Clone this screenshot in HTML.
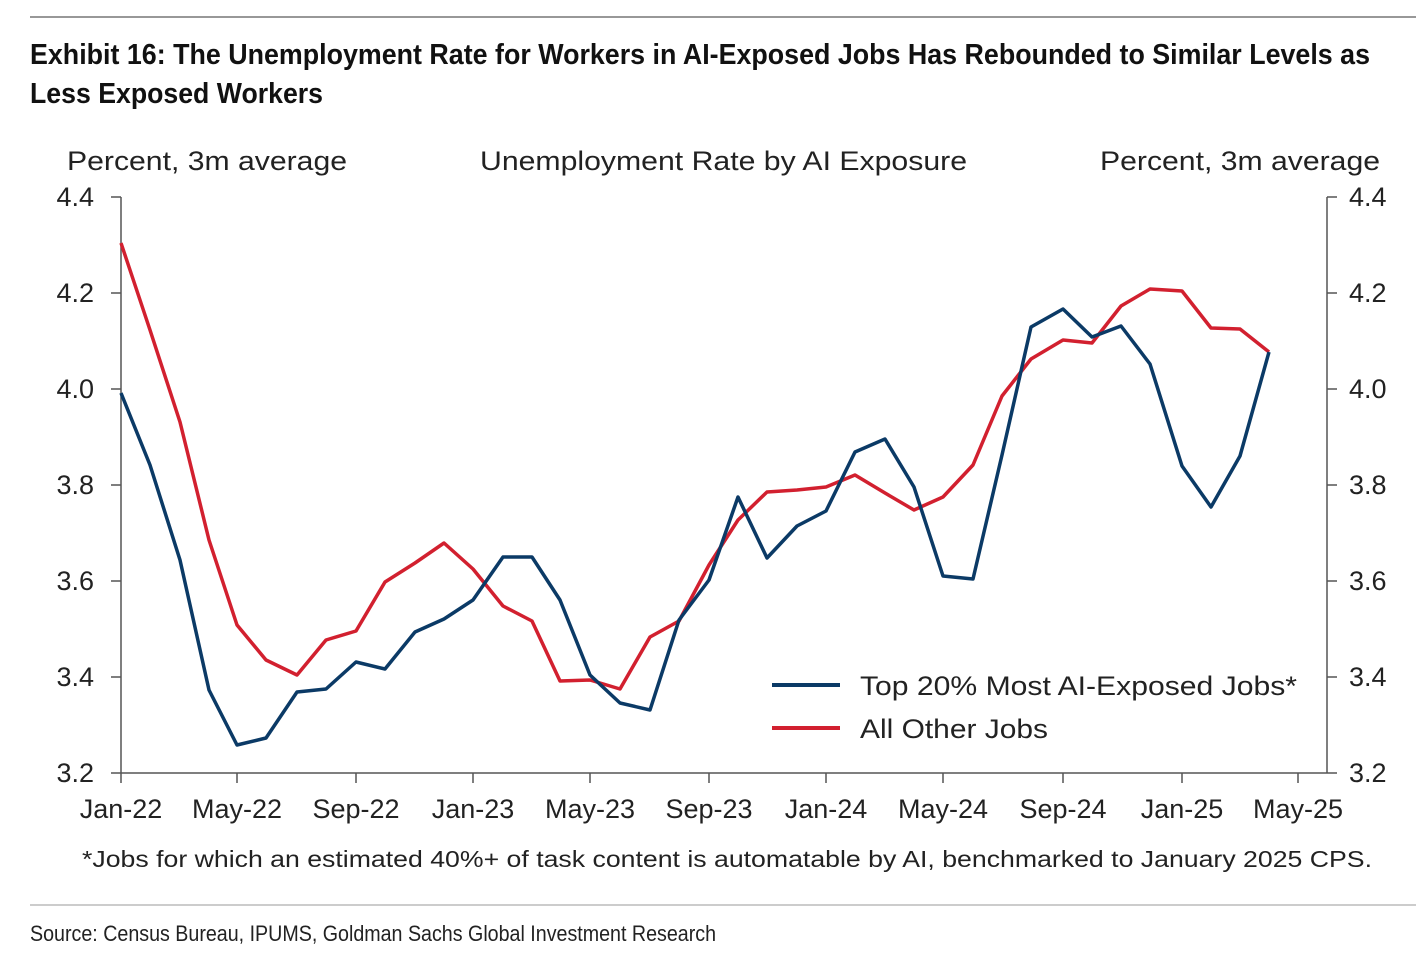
<!DOCTYPE html>
<html><head><meta charset="utf-8"><style>
html,body{margin:0;padding:0;background:#fff;width:1424px;height:960px;overflow:hidden}
</style></head><body>
<svg width="1424" height="960" xmlns="http://www.w3.org/2000/svg">
<line x1="30" y1="17" x2="1416" y2="17" stroke="#777" stroke-width="1.5"/>
<g font-family="'Liberation Sans Narrow','Liberation Sans',sans-serif" font-weight="bold" font-size="29" fill="#111">
<text x="30" y="64" textLength="1340" lengthAdjust="spacingAndGlyphs">Exhibit 16: The Unemployment Rate for Workers in AI-Exposed Jobs Has Rebounded to Similar Levels as</text>
<text x="30" y="103" textLength="293" lengthAdjust="spacingAndGlyphs">Less Exposed Workers</text>
</g>
<g font-family="'Liberation Sans',sans-serif" font-size="27" fill="#222">
<text x="67" y="170" textLength="280" lengthAdjust="spacingAndGlyphs">Percent, 3m average</text>
<text x="480" y="170" textLength="487" lengthAdjust="spacingAndGlyphs">Unemployment Rate by AI Exposure</text>
<text x="1100" y="170" textLength="280" lengthAdjust="spacingAndGlyphs">Percent, 3m average</text>
</g>
<g stroke="#555" stroke-width="1.5" fill="none">
<line x1="121" y1="197" x2="121" y2="773"/>
<line x1="1327" y1="197" x2="1327" y2="773"/>
<line x1="121" y1="773" x2="1327" y2="773"/>
<path d="M111 197H121M111 293H121M111 389H121M111 485H121M111 581H121M111 677H121M111 773H121"/>
<path d="M1327 197H1337M1327 293H1337M1327 389H1337M1327 485H1337M1327 581H1337M1327 677H1337M1327 773H1337"/>
<path d="M121 773V783M237 773V783M356 773V783M473 773V783M590 773V783M709 773V783M826 773V783M943 773V783M1063 773V783M1182 773V783M1298 773V783"/>
</g>
<g font-family="'Liberation Sans',sans-serif" font-size="27" fill="#222">
<g text-anchor="end">
<text x="94" y="206">4.4</text><text x="94" y="302">4.2</text><text x="94" y="398">4.0</text><text x="94" y="494">3.8</text><text x="94" y="590">3.6</text><text x="94" y="686">3.4</text><text x="94" y="782">3.2</text>
</g>
<g>
<text x="1349" y="206">4.4</text><text x="1349" y="302">4.2</text><text x="1349" y="398">4.0</text><text x="1349" y="494">3.8</text><text x="1349" y="590">3.6</text><text x="1349" y="686">3.4</text><text x="1349" y="782">3.2</text>
</g>
<g text-anchor="middle">
<text x="121" y="818">Jan-22</text><text x="237" y="818">May-22</text><text x="356" y="818">Sep-22</text><text x="473" y="818">Jan-23</text><text x="590" y="818">May-23</text><text x="709" y="818">Sep-23</text><text x="826" y="818">Jan-24</text><text x="943" y="818">May-24</text><text x="1063" y="818">Sep-24</text><text x="1182" y="818">Jan-25</text><text x="1298" y="818">May-25</text>
</g>
<text x="82" y="867" font-size="23" textLength="1290" lengthAdjust="spacingAndGlyphs">*Jobs for which an estimated 40%+ of task content is automatable by AI, benchmarked to January 2025 CPS.</text>
<text x="860" y="695" textLength="437" lengthAdjust="spacingAndGlyphs">Top 20% Most AI-Exposed Jobs*</text>
<text x="860" y="738" textLength="188" lengthAdjust="spacingAndGlyphs">All Other Jobs</text>
</g>
<line x1="772" y1="685" x2="840" y2="685" stroke="#0b3a66" stroke-width="4"/>
<line x1="772" y1="728" x2="840" y2="728" stroke="#d2202f" stroke-width="4"/>
<polyline fill="none" stroke="#d2202f" stroke-width="3.5" stroke-linejoin="round" points="121,243 150,330 180,422 209,540 237,625 266,660 297,675 326,640 356,631 385,582 415,563 444,543 473,569 503,606 532,621 560,681 590,680 620,689 650,637 679,621 709,565 738,520 767,492 797,490 826,487 855,475 885,493 914,510 943,497 973,465 1002,396 1031,359 1063,340 1092,343 1121,306 1150,289 1182,291 1211,328 1240,329 1269,352"/>
<polyline fill="none" stroke="#0b3a66" stroke-width="3.5" stroke-linejoin="round" points="121,393 150,465 180,560 209,690 237,745 266,738 297,692 326,689 356,662 385,669 415,632 444,619 473,600 503,557 532,557 560,600 590,675 620,703 650,710 679,620 709,580 738,497 767,558 797,526 826,511 855,452 885,439 914,487 943,576 973,579 1002,455 1031,327 1063,309 1092,337 1121,326 1150,364 1182,466 1211,507 1240,456 1269,352"/>
<line x1="30" y1="905" x2="1416" y2="905" stroke="#999" stroke-width="1"/>
<text x="30" y="941" font-family="'Liberation Sans Narrow','Liberation Sans',sans-serif" font-size="22" fill="#222" textLength="686" lengthAdjust="spacingAndGlyphs">Source: Census Bureau, IPUMS, Goldman Sachs Global Investment Research</text>
</svg>
</body></html>
